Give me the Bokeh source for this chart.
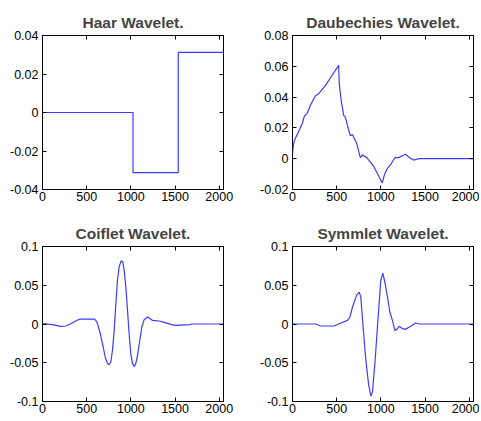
from bokeh.plotting import figure
from bokeh.layouts import row, column
from bokeh.models import Range1d, FixedTicker, LinearAxis, CustomLabelingPolicy
from bokeh.embed import file_html
from bokeh.resources import INLINE

# ---------------- data ----------------
x_ticks = [0, 500, 1000, 1500, 2000]
x_labels = ["0", "500", "1000", "1500", "2000"]

haar_x = [0, 1024, 1024, 1536, 1536, 2048]
haar_y = [0.0, 0.0, -0.0312, -0.0312, 0.0312, 0.0312]
haar_ticks = [-0.04, -0.02, 0, 0.02, 0.04]
haar_labels = ["-0.04", "-0.02", "0", "0.02", "0.04"]

daub_x = [0, 10, 26, 64, 109, 135, 165, 203, 259, 289, 372, 447, 522, 530, 553, 579,
          598, 627, 654, 680, 729, 767, 793, 841, 917, 966, 1015, 1041, 1078, 1117,
          1146, 1163, 1202, 1278, 1334, 1372, 1428, 2048]
daub_y = [0.003, 0.009, 0.0125, 0.017, 0.0227, 0.0277, 0.0293, 0.0347, 0.0409, 0.0418,
          0.0475, 0.054, 0.0606, 0.048, 0.037, 0.0281, 0.027, 0.0204, 0.015, 0.0155,
          0.0095, 0.0007, 0.0024, 0.0007, -0.0048, -0.0103, -0.0158, -0.0103, -0.0059,
          -0.0033, -0.0004, 0.0008, 0.0007, 0.0029, 0.0003, -0.0009, 0.0, 0.0]
daub_ticks = [-0.02, 0, 0.02, 0.04, 0.06, 0.08]
daub_labels = ["-0.02", "0", "0.02", "0.04", "0.06", "0.08"]

coif_x = [0, 113, 207, 264, 320, 377, 422, 585, 603, 622, 649, 679, 709, 735, 754, 773,
          792, 811, 830, 848, 867, 890, 909, 924, 943, 962, 980, 999, 1018, 1037, 1056,
          1075, 1101, 1124, 1150, 1188, 1244, 1320, 1376, 1452, 1508, 1659, 1697, 2048]
coif_y = [0.0004, -0.0009, -0.003, -0.0026, 0.0004, 0.0039, 0.0064, 0.0064, 0.0047,
          0.0004, -0.0103, -0.0253, -0.0425, -0.0511, -0.0524, -0.049, -0.0339, -0.0082,
          0.0262, 0.0563, 0.0735, 0.0818, 0.080, 0.0692, 0.0477, 0.0176, -0.0125, -0.0382,
          -0.0511, -0.0546, -0.0511, -0.0404, -0.021, -0.0039, 0.0056, 0.009, 0.0047,
          0.0039, 0.0021, -0.0004, -0.0017, -0.0009, 0.0, 0.0]

sym_x = [0, 264, 320, 471, 528, 622, 649, 679, 724, 754, 773, 799, 830, 860, 886, 905,
         935, 969, 999, 1022, 1045, 1075, 1101, 1131, 1158, 1180, 1207, 1244, 1275, 1339,
         1395, 1433, 2048]
sym_y = [0.0, 0.0, -0.0026, -0.0026, 0.0004, 0.0047, 0.009, 0.0219, 0.037, 0.0412,
         0.0348, -0.0039, -0.0468, -0.0769, -0.0932, -0.0876, -0.0468, 0.009, 0.0563,
         0.0657, 0.0541, 0.0348, 0.0155, 0.0047, -0.0082, -0.0069, -0.003, -0.006,
         -0.0069, -0.003, 0.0013, 0.0, 0.0]
cs_ticks = [-0.1, -0.05, 0, 0.05, 0.1]
cs_labels = ["-0.1", "-0.05", "0", "0.05", "0.1"]

LINE = "#3c3cff"
FONT = "Liberation Sans"

HIDE_JS = """
const keep = [];
for (const i of indices) keep.push(i);
for (const i of keep) {
  if (typeof indices.unset === 'function') indices.unset(i);
  else indices.set(i, false);
}
return indices;
"""


def style_axis(ax, hidden, standoff):
    ax.major_tick_in = 4
    ax.major_tick_out = 0
    ax.minor_tick_line_color = None
    ax.axis_line_color = None
    ax.major_tick_line_color = "black"
    ax.major_label_text_font = FONT
    ax.major_label_text_font_size = "12.5px"
    ax.major_label_text_color = "black"
    ax.major_label_standoff = standoff
    if hidden:
        ax.major_label_policy = CustomLabelingPolicy(code=HIDE_JS)
        ax.major_label_text_font_size = "0px"
        ax.major_label_standoff = 0


def make(title, xs, ys, yr, yt, yl, w, h, bl, br, bt, bb):
    p = figure(width=w, height=h, output_backend="svg", toolbar_location=None,
               x_range=Range1d(0, 2048), y_range=Range1d(*yr),
               min_border_left=bl, min_border_right=br, min_border_top=bt,
               min_border_bottom=bb, x_axis_type=None, y_axis_type=None,
               title=title)
    p.title.text_font = FONT
    p.title.text_font_size = "15.5px"
    p.title.text_font_style = "bold"
    p.title.align = "center"
    p.title.standoff = 10
    p.grid.visible = False
    p.outline_line_color = "black"
    p.outline_line_width = 1
    p.background_fill_color = "white"
    p.border_fill_color = "white"

    xo = dict(zip(x_ticks, x_labels))
    yo = dict(zip(yt, yl))
    for loc in ["below", "above"]:
        ax = LinearAxis(ticker=FixedTicker(ticks=x_ticks), major_label_overrides=xo)
        style_axis(ax, loc == "above", 2)
        p.add_layout(ax, loc)
    for loc in ["left", "right"]:
        ax = LinearAxis(ticker=FixedTicker(ticks=yt), major_label_overrides=yo)
        style_axis(ax, loc == "right", 4)
        p.add_layout(ax, loc)

    p.line(xs, ys, line_color=LINE, line_width=1.2)
    return p


p1 = make("Haar Wavelet.", haar_x, haar_y, (-0.04, 0.04), haar_ticks, haar_labels,
          240, 216, 42, 17, 35, 27)
p2 = make("Daubechies Wavelet.", daub_x, daub_y, (-0.02, 0.08), daub_ticks, daub_labels,
          239, 216, 52, 6, 35, 27)
p3 = make("Coiflet Wavelet.", coif_x, coif_y, (-0.1, 0.1), cs_ticks, cs_labels,
          240, 203, 42, 17, 30, 18)
p4 = make("Symmlet Wavelet.", sym_x, sym_y, (-0.1, 0.1), cs_ticks, cs_labels,
          239, 203, 52, 6, 30, 18)

layout = column(row(p1, p2), row(p3, p4))

open("out.html", "w").write(file_html(layout, INLINE))
